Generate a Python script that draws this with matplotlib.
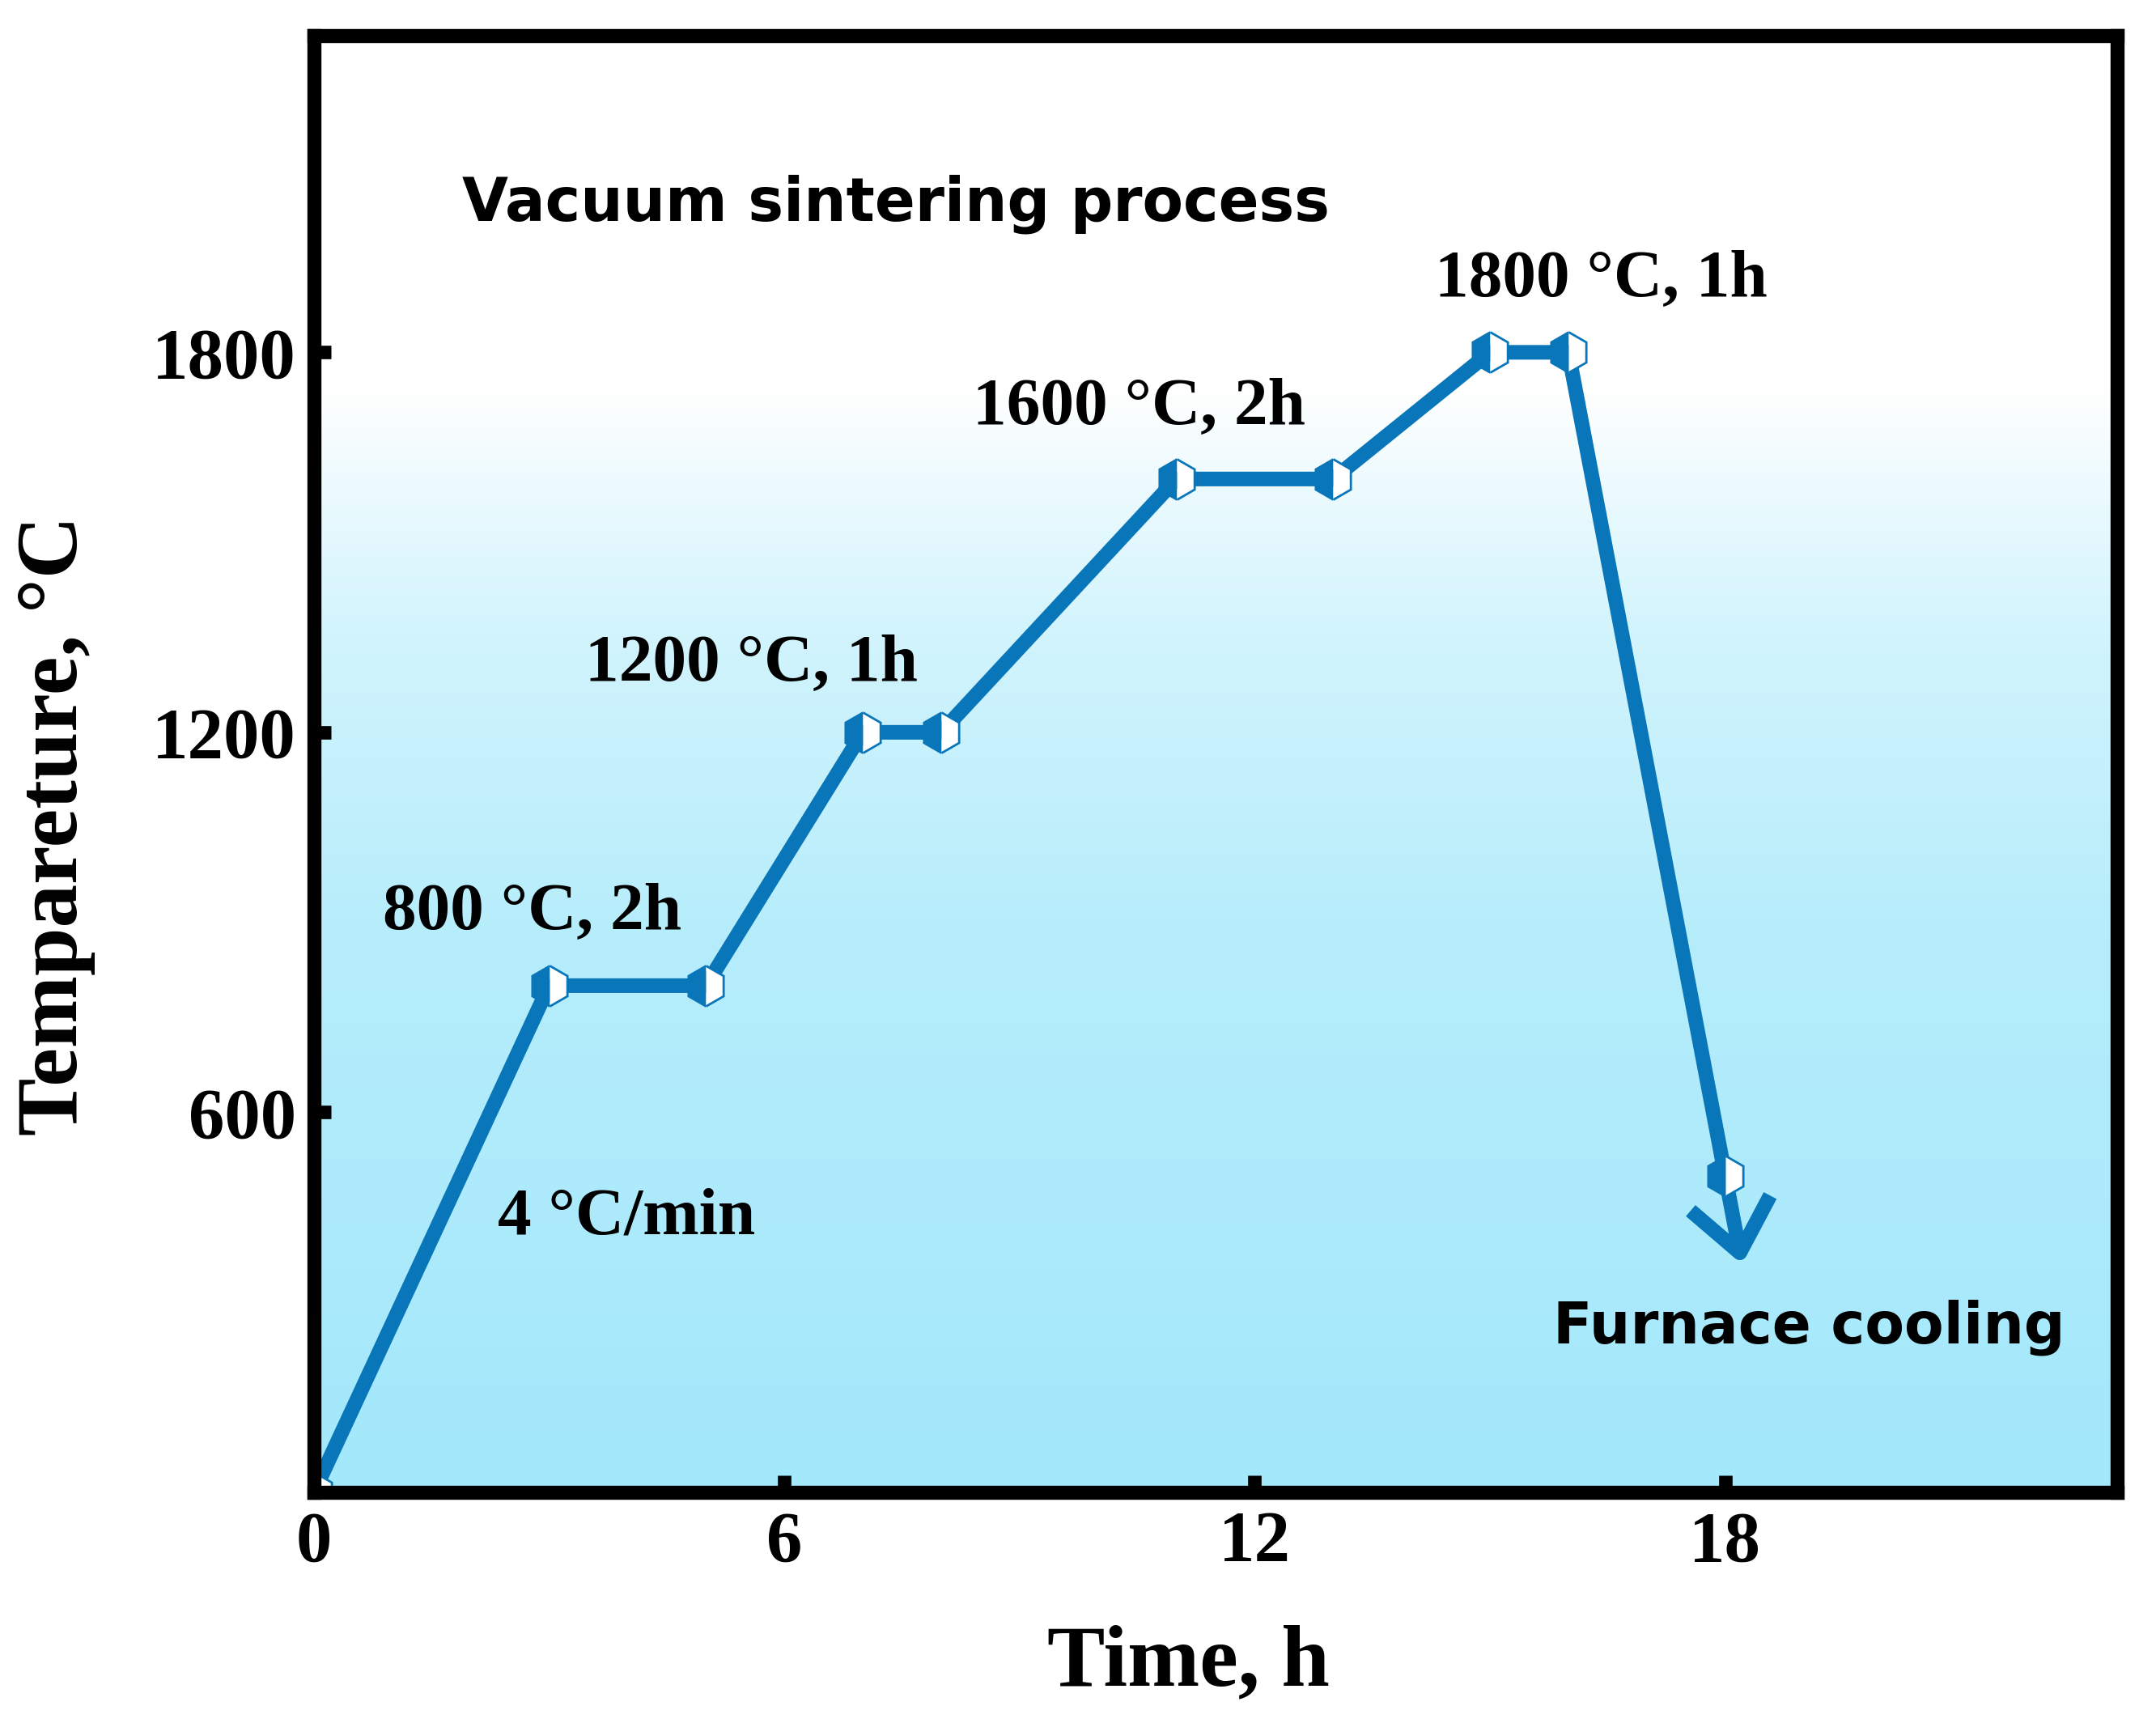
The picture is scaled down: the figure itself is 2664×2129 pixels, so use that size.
import numpy as np
import matplotlib.pyplot as plt
from matplotlib.colors import LinearSegmentedColormap

# --- DATA ---
time_h = [0, 3, 5, 7, 8, 11, 13, 15, 16, 18]
temp_c = [0, 800, 800, 1200, 1200, 1600, 1600, 1800, 1800, 500]
arrow_end = (18.215, 360)

labels = ["800 \u00b0C, 2h", "1200 \u00b0C, 1h", "1600 \u00b0C, 2h", "1800 \u00b0C, 1h", "4 \u00b0C/min"]
label_x = [2.78, 5.58, 10.53, 16.42, 3.99]
label_y = [916, 1308, 1713, 1915, 433]

x_ticks = [0, 6, 12, 18]
y_ticks = [600, 1200, 1800]

# --- STYLE ---
serif = ['Liberation Serif', 'DejaVu Serif']
sans = ['DejaVu Sans']
blue = '#0A76BA'

fig = plt.figure(figsize=(26.64, 21.29), dpi=100)
ax = fig.add_axes([0.1456, 0.1339, 0.8364, 0.8454])
ax.set_xlim(0, 23)
ax.set_ylim(0, 2300)

# background gradient: white at top, light cyan at bottom
cmap = LinearSegmentedColormap.from_list(
    'bg', [(0, '#A3E8FB'), (0.5, '#B6EDFB'), (0.78, '#D2F4FD'), (1, '#FFFFFF')])
yy = np.linspace(0, 2300, 400)
grad = np.clip(yy / 1750, 0, 1)[:, None]
ax.imshow(grad, extent=[0, 23, 0, 2300], origin='lower', aspect='auto', cmap=cmap,
          vmin=0, vmax=1, zorder=0)

# cooling arrow
ax.annotate('', xy=arrow_end, xytext=(time_h[-1], temp_c[-1]),
            arrowprops=dict(arrowstyle='->, head_length=0.45, head_width=0.36',
                            color=blue, lw=13, mutation_scale=100, shrinkA=0, shrinkB=0,
                            capstyle='butt'), zorder=2)

ax.plot(time_h, temp_c, color=blue, lw=13, marker='h', markersize=36,
        fillstyle='left', markerfacecolor=blue, markerfacecoloralt='white',
        markeredgecolor=blue, markeredgewidth=2, zorder=3)

for s, x, y in zip(labels, label_x, label_y):
    ax.text(x, y, s, ha='center', va='center', fontsize=60, fontweight='bold', family=serif)

ax.text(1.89, 2034, 'Vacuum sintering process', ha='left', va='center', fontsize=53,
        fontweight='bold', family=sans)
ax.text(19.07, 260, 'Furnace cooling', ha='center', va='center', fontsize=51,
        fontweight='bold', family=sans)

ax.set_xticks(x_ticks)
ax.set_yticks(y_ticks)
ax.tick_params(direction='in', length=15, width=12, pad=16, labelsize=64)
for lab in ax.get_xticklabels() + ax.get_yticklabels():
    lab.set_fontfamily(serif)
    lab.set_fontweight('bold')

for sp in ax.spines.values():
    sp.set_linewidth(12.5)
    sp.set_zorder(5)

ax.set_xlabel('Time, h', fontsize=77, fontweight='bold', family=serif, va='center')
ax.set_ylabel('Tempareture, \u00b0C', fontsize=77, fontweight='bold', family=serif, va='center')
ax.xaxis.set_label_coords(0.485, -0.118)
ax.yaxis.set_label_coords(-0.143, 0.4575)

fig.savefig('out.png', dpi=100)
